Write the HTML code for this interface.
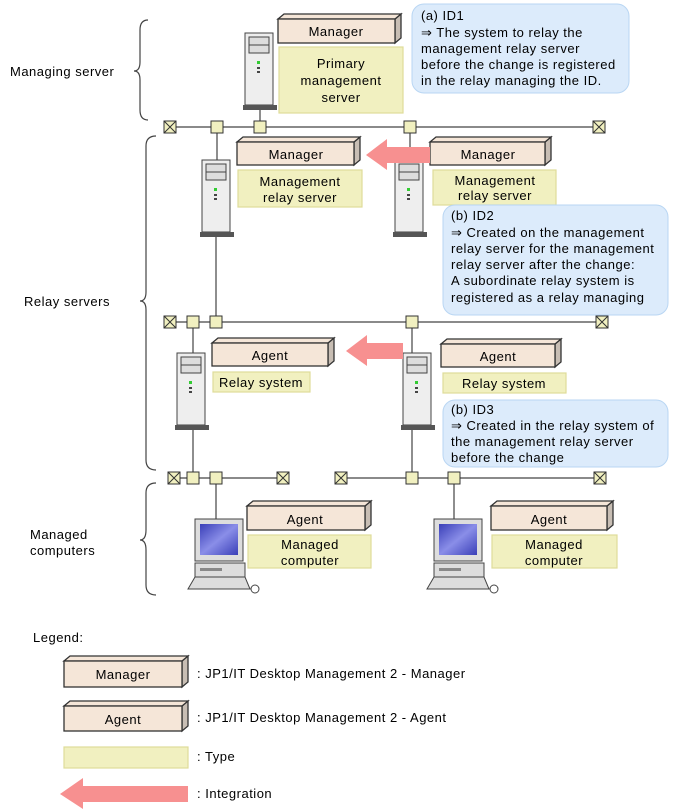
<!DOCTYPE html>
<html><head><meta charset="utf-8"><style>
body{margin:0;background:#fff}
svg{display:block}
text{font-family:"Liberation Sans",sans-serif;font-size:13px;fill:#000;letter-spacing:0.5px}
.f{fill:#f5e6d8;stroke:#333;stroke-width:1.3}
.s{fill:#c8beb4;stroke:#333;stroke-width:1.3}
.t{fill:#f1f0c0;stroke:#dedc9a;stroke-width:1.2}
.c{fill:#dcebfb;stroke:#b9d6f3;stroke-width:1}
.n{fill:#f1f0c0;stroke:#333;stroke-width:1}
.l{stroke:#444;stroke-width:1.2;fill:none}
.ar{fill:#f79090}
</style></head><body>
<svg width="674" height="812" viewBox="0 0 674 812">
<defs>
<linearGradient id="scr" x1="0" y1="0" x2="1" y2="1"><stop offset="0" stop-color="#3a3fb8"/><stop offset="0.5" stop-color="#8a8ee8"/><stop offset="1" stop-color="#3a3fb8"/></linearGradient>
<g id="tower">
<rect x="2" y="0" width="28" height="72" fill="#eee" stroke="#444"/>
<rect x="6" y="4" width="20" height="16" fill="#ddd" stroke="#444"/>
<line x1="6" y1="12" x2="26" y2="12" stroke="#444"/>
<rect x="14" y="28" width="3" height="3" fill="#3c3"/>
<rect x="14" y="34" width="3" height="2" fill="#444"/>
<rect x="14" y="38" width="3" height="2" fill="#444"/>
<rect x="0" y="72" width="34" height="5" fill="#555"/>
</g>
<g id="comp">
<rect x="7" y="0" width="48" height="42" fill="#ddd" stroke="#444"/>
<rect x="12" y="5" width="38" height="31" fill="url(#scr)"/>
<rect x="7" y="44" width="50" height="14" fill="#ddd" stroke="#444"/>
<rect x="12" y="49" width="22" height="3" fill="#888"/>
<path d="M7 58 L57 58 L62 70 L0 70 Z" fill="#ddd" stroke="#444"/>
<circle cx="67" cy="70" r="4" fill="#fff" stroke="#444"/>
</g>
<g id="term"><rect x="-6" y="-6" width="12" height="12" fill="#f1f0c0" stroke="#333"/><path d="M-6 -6 L6 6 M6 -6 L-6 6" stroke="#333"/></g>
<g id="node"><rect x="-6" y="-6" width="12" height="12" class="n"/></g>
</defs>

<path class="l" d="M148 20 Q140 20 140 30 L140 62 Q140 71 134 71 Q140 71 140 80 L140 110 Q140 120 148 120"/>
<path class="l" d="M156 136 Q146 136 146 146 L146 292 Q146 301 140 301 Q146 301 146 310 L146 460 Q146 470 156 470"/>
<path class="l" d="M156 483 Q146 483 146 493 L146 530 Q146 540 140 540 Q146 540 146 550 L146 585 Q146 595 156 595"/>
<text x="10" y="76">Managing server</text>
<text x="24" y="306">Relay servers</text>
<text x="30" y="539">Managed</text>
<text x="30" y="555">computers</text>

<line class="l" x1="170" y1="127" x2="600" y2="127"/>
<line class="l" x1="260" y1="108" x2="260" y2="127"/>
<line class="l" x1="217" y1="127" x2="217" y2="160"/>
<line class="l" x1="410" y1="127" x2="410" y2="160"/>
<use href="#term" x="170" y="127"/><use href="#term" x="599" y="127"/>
<use href="#node" x="217" y="127"/><use href="#node" x="260" y="127"/><use href="#node" x="410" y="127"/>

<line class="l" x1="170" y1="322" x2="602" y2="322"/>
<line class="l" x1="216" y1="235" x2="216" y2="322"/>
<line class="l" x1="193" y1="322" x2="193" y2="355"/>
<line class="l" x1="412" y1="322" x2="412" y2="356"/>
<use href="#term" x="170" y="322"/><use href="#term" x="602" y="322"/>
<use href="#node" x="193" y="322"/><use href="#node" x="216" y="322"/><use href="#node" x="412" y="322"/>

<line class="l" x1="173" y1="478" x2="283" y2="478"/>
<line class="l" x1="340" y1="478" x2="600" y2="478"/>
<line class="l" x1="193" y1="430" x2="193" y2="478"/>
<line class="l" x1="216" y1="478" x2="216" y2="520"/>
<line class="l" x1="412" y1="430" x2="412" y2="478"/>
<line class="l" x1="454" y1="478" x2="454" y2="520"/>
<use href="#term" x="174" y="478"/><use href="#term" x="283" y="478"/>
<use href="#term" x="341" y="478"/><use href="#term" x="600" y="478"/>
<use href="#node" x="193" y="478"/><use href="#node" x="216" y="478"/>
<use href="#node" x="412" y="478"/><use href="#node" x="454" y="478"/>

<use href="#tower" x="243" y="33"/>
<use href="#tower" x="200" y="160"/>
<use href="#tower" x="393" y="160"/>
<use href="#tower" x="175" y="353"/>
<use href="#tower" x="401" y="353"/>
<use href="#comp" x="188" y="519"/>
<use href="#comp" x="427" y="519"/>

<g>
<path class="s" d="M395 19 L401 14 L401 38 L395 43 Z"/><path class="f" d="M278 19 L284 14 L401 14 L395 19 Z"/><rect class="f" x="278" y="19" width="117" height="24"/>
<text x="336" y="36" text-anchor="middle">Manager</text>
<rect class="t" x="279" y="47" width="124" height="66"/>
<text x="341" y="68" text-anchor="middle">Primary</text><text x="341" y="85" text-anchor="middle">management</text><text x="341" y="102" text-anchor="middle">server</text>
</g>
<g>
<path class="s" d="M354 142 L360 137 L360 160 L354 165 Z"/><path class="f" d="M237 142 L243 137 L360 137 L354 142 Z"/><rect class="f" x="237" y="142" width="117" height="23"/>
<text x="296" y="159" text-anchor="middle">Manager</text>
<rect class="t" x="238" y="170" width="124" height="37"/>
<text x="300" y="186" text-anchor="middle">Management</text><text x="300" y="202" text-anchor="middle">relay server</text>
</g>
<g>
<path class="s" d="M545 142 L551 137 L551 160 L545 165 Z"/><path class="f" d="M430 142 L436 137 L551 137 L545 142 Z"/><rect class="f" x="430" y="142" width="115" height="23"/>
<text x="488" y="159" text-anchor="middle">Manager</text>
<rect class="t" x="433" y="170" width="123" height="35"/>
<text x="495" y="185" text-anchor="middle">Management</text><text x="495" y="200" text-anchor="middle">relay server</text>
</g>
<g>
<path class="s" d="M328 343 L334 338 L334 361 L328 366 Z"/><path class="f" d="M212 343 L218 338 L334 338 L328 343 Z"/><rect class="f" x="212" y="343" width="116" height="23"/>
<text x="270" y="360" text-anchor="middle">Agent</text>
<rect class="t" x="213" y="372" width="97" height="20"/>
<text x="261" y="387" text-anchor="middle">Relay system</text>
</g>
<g>
<path class="s" d="M555 344 L561 339 L561 362 L555 367 Z"/><path class="f" d="M441 344 L447 339 L561 339 L555 344 Z"/><rect class="f" x="441" y="344" width="114" height="23"/>
<text x="498" y="361" text-anchor="middle">Agent</text>
<rect class="t" x="443" y="373" width="123" height="20"/>
<text x="504" y="388" text-anchor="middle">Relay system</text>
</g>
<g>
<path class="s" d="M365 506 L371 501 L371 525 L365 530 Z"/><path class="f" d="M247 506 L253 501 L371 501 L365 506 Z"/><rect class="f" x="247" y="506" width="118" height="24"/>
<text x="305" y="524" text-anchor="middle">Agent</text>
<rect class="t" x="248" y="535" width="123" height="33"/>
<text x="310" y="549" text-anchor="middle">Managed</text><text x="310" y="565" text-anchor="middle">computer</text>
</g>
<g>
<path class="s" d="M607 506 L613 501 L613 525 L607 530 Z"/><path class="f" d="M491 506 L497 501 L613 501 L607 506 Z"/><rect class="f" x="491" y="506" width="116" height="24"/>
<text x="549" y="524" text-anchor="middle">Agent</text>
<rect class="t" x="492" y="535" width="125" height="33"/>
<text x="554" y="549" text-anchor="middle">Managed</text><text x="554" y="565" text-anchor="middle">computer</text>
</g>

<path class="ar" d="M430 147 L387 147 L387 139 L366 155 L387 170 L387 163 L430 163 Z"/>
<path class="ar" d="M403 343 L367 343 L367 335 L346 351 L367 366 L367 359 L403 359 Z"/>

<rect class="c" x="412" y="4" width="217" height="89" rx="12"/>
<text x="421" y="20">(a) ID1</text>
<text x="421" y="37">⇒ The system to relay the</text>
<text x="421" y="53">management relay server</text>
<text x="421" y="69">before the change is registered</text>
<text x="421" y="85">in the relay managing the ID.</text>
<rect class="c" x="443" y="205" width="225" height="110" rx="12"/>
<text x="451" y="220">(b) ID2</text>
<text x="451" y="237">⇒ Created on the management</text>
<text x="451" y="253">relay server for the management</text>
<text x="451" y="269">relay server after the change:</text>
<text x="451" y="285">A subordinate relay system is</text>
<text x="451" y="302">registered as a relay managing</text>
<rect class="c" x="443" y="400" width="225" height="67" rx="12"/>
<text x="451" y="414">(b) ID3</text>
<text x="451" y="430">⇒ Created in the relay system of</text>
<text x="451" y="446">the management relay server</text>
<text x="451" y="462">before the change</text>

<text x="33" y="642">Legend:</text>
<path class="s" d="M182 661 L188 656 L188 682 L182 687 Z"/><path class="f" d="M64 661 L70 656 L188 656 L182 661 Z"/><rect class="f" x="64" y="661" width="118" height="26"/>
<text x="123" y="679" text-anchor="middle">Manager</text>
<text x="197" y="678">: JP1/IT Desktop Management 2 - Manager</text>
<path class="s" d="M182 706 L188 701 L188 726 L182 731 Z"/><path class="f" d="M64 706 L70 701 L188 701 L182 706 Z"/><rect class="f" x="64" y="706" width="118" height="25"/>
<text x="123" y="724" text-anchor="middle">Agent</text>
<text x="197" y="722">: JP1/IT Desktop Management 2 - Agent</text>
<rect class="t" x="64" y="747" width="124" height="21"/>
<text x="197" y="761">: Type</text>
<path class="ar" d="M188 786 L83 786 L83 778 L60 794 L83 809 L83 802 L188 802 Z"/>
<text x="197" y="798">: Integration</text>
</svg>
</body></html>
